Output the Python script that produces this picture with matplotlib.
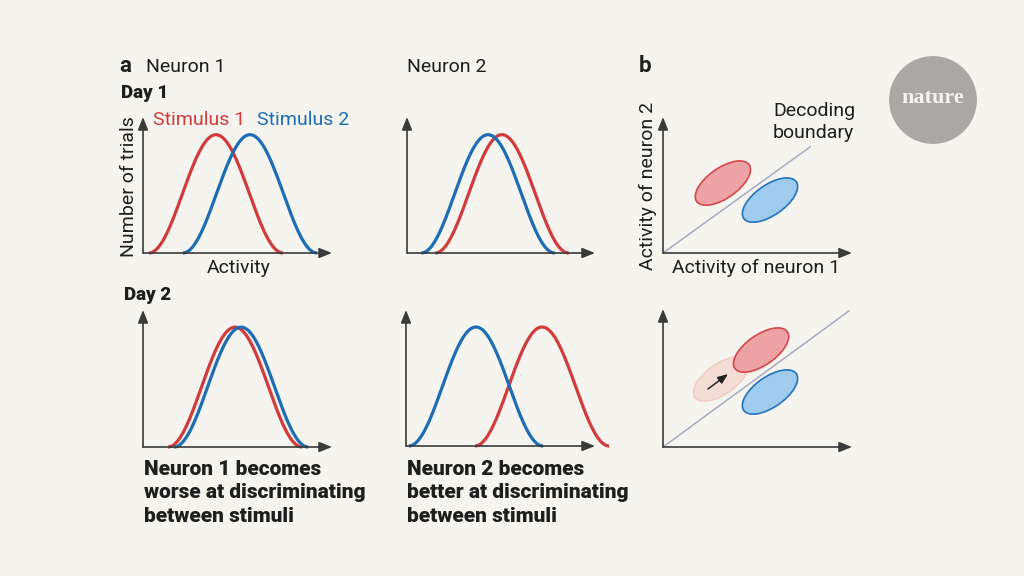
import numpy as np
import matplotlib
matplotlib.use("Agg")
import matplotlib.pyplot as plt
from matplotlib.patches import Ellipse, Circle

# ---------------- data ----------------
# bell curves: centers in activity units (0-10 axis), [stimulus 1, stimulus 2]
day1_n1_centers = [3.86, 5.66]
day1_n2_centers = [5.05, 4.31]
day2_n1_centers = [4.87, 5.19]
day2_n2_centers = [7.2, 3.7]
half_width = 3.55
peak_height = [0.87, 0.87, 0.875, 0.875]

# panel b: population activity clouds (neuron1, neuron2)
b1_stim1_center = (3.17, 3.70)
b1_stim2_center = (5.66, 2.80)
b2_stim1_center = (5.19, 5.13)
b2_stim1_old = (3.07, 3.60)
b2_stim2_center = (5.66, 2.91)
cloud_size = (3.39, 1.6)
cloud_angle = 35
boundary_top = [(7.78, 5.61), (9.84, 7.2)]
shift_arrow = [(2.38, 3.07), (3.44, 3.86)]

series_labels = ["Stimulus 1", "Stimulus 2"]

# ---------------- style ----------------
BG = "#f5f4ee"
RED = "#d23b3c"
BLUE = "#1c6db6"
AX = "#3a3a3a"
TXT = "#1e1e1e"
FONT = ["Roboto", "DejaVu Sans"]
plt.rcParams["font.family"] = FONT

W, H = 1024, 576
fig = plt.figure(figsize=(W / 100, H / 100), dpi=100, facecolor=BG)


def rect(x0, y_axis, x1, y_top):
    return [x0 / W, 1 - y_axis / H, (x1 - x0) / W, (y_axis - y_top) / H]


def arrows(ax):
    kw = dict(arrowstyle="-|>,head_length=0.55,head_width=0.22", color=AX, lw=1.2,
              shrinkA=0, shrinkB=0, mutation_scale=14)
    ax.annotate("", xy=(1, 0), xytext=(0, 0), xycoords="axes fraction", arrowprops=kw)
    ax.annotate("", xy=(0, 1), xytext=(0, 0), xycoords="axes fraction", arrowprops=kw)


def clean(ax):
    ax.set_facecolor("none")
    for s in ax.spines.values():
        s.set_visible(False)
    ax.set_xticks([])
    ax.set_yticks([])


def curve_panel(r, centers, h):
    ax = fig.add_axes(r)
    clean(ax)
    ax.set_xlim(0, 10)
    ax.set_ylim(0, 1)
    cols = [RED, BLUE]
    for c, col in zip(centers, cols):
        x = np.linspace(c - half_width, c + half_width, 300)
        y = h * (1 + np.cos(np.pi * (x - c) / half_width)) / 2
        ax.plot(x, y, color=col, lw=2.3, clip_on=False, solid_capstyle="butt")
    arrows(ax)
    return ax


ax1 = curve_panel(rect(143, 253, 332, 117), day1_n1_centers, peak_height[0])
ax2 = curve_panel(rect(407, 253, 595, 117), day1_n2_centers, peak_height[1])
ax3 = curve_panel(rect(143, 447, 332, 310), day2_n1_centers, peak_height[2])
ax4 = curve_panel(rect(406, 446, 595, 310), day2_n2_centers, peak_height[3])


def cloud(ax, c, fc, ec, z=2):
    ax.add_patch(Ellipse(c, cloud_size[0], cloud_size[1], angle=cloud_angle,
                         facecolor=fc, edgecolor=ec, lw=1.2, zorder=z))


def b_panel(r, top):
    ax = fig.add_axes(r)
    clean(ax)
    ax.set_xlim(0, 10)
    ax.set_ylim(0, (r[3] * H) / (r[2] * W) * 10)
    ax.plot([0, top[0]], [0, top[1]], color="#a7abc0", lw=1.1, zorder=1)
    arrows(ax)
    return ax


bA = b_panel(rect(663, 253, 852, 117), boundary_top[0])
cloud(bA, b1_stim1_center, "#eda3a5", "#d8474a")
cloud(bA, b1_stim2_center, "#9fcbec", "#2174c0")

bB = b_panel(rect(663, 447, 852, 309), boundary_top[1])
cloud(bB, b2_stim1_old, "#f3ddd6", "#f0cec6", z=2)
cloud(bB, b2_stim1_center, "#eda3a5", "#d8474a", z=3)
cloud(bB, b2_stim2_center, "#9fcbec", "#2174c0")
bB.annotate("", xy=shift_arrow[1], xytext=shift_arrow[0],
            arrowprops=dict(arrowstyle="-|>,head_length=0.5,head_width=0.2", color="#222222",
                            lw=1.1, shrinkA=0, shrinkB=0, mutation_scale=12), zorder=5)


# ---------------- text ----------------
def t(x, y, s, **kw):
    kw.setdefault("color", TXT)
    kw.setdefault("fontsize", 14)
    kw.setdefault("va", "center")
    fig.text(x / W, 1 - y / H, s, **kw)


t(119, 66, "a", fontweight="bold", fontsize=16)
t(146, 67, "Neuron 1")
t(407, 67, "Neuron 2")
t(639, 66, "b", fontweight="bold", fontsize=16)
t(121, 93, "Day 1", fontweight="heavy", fontsize=13.5)
t(124, 295, "Day 2", fontweight="heavy", fontsize=13.5)
t(153, 120, series_labels[0], color=RED)
t(257, 120, series_labels[1], color=BLUE)
t(129, 187, "Number of trials", rotation=90, ha="center")
t(239, 268, "Activity", ha="center")
t(648, 186, "Activity of neuron 2", rotation=90, ha="center")
t(756, 268, "Activity of neuron 1", ha="center")
t(773, 111, "Decoding")
t(773, 133, "boundary")

t(144, 493, "Neuron 1 becomes\nworse at discriminating\nbetween stimuli",
  fontweight="heavy", fontsize=15, linespacing=1.3)
t(407, 493, "Neuron 2 becomes\nbetter at discriminating\nbetween stimuli",
  fontweight="heavy", fontsize=15, linespacing=1.3)

# nature logo
lg = fig.add_axes([(933 - 45) / W, 1 - (100 + 45) / H, 90 / W, 90 / H])
lg.set_xlim(-1, 1)
lg.set_ylim(-1, 1)
lg.axis("off")
lg.add_patch(Circle((0, 0), 0.96, color="#a9a8a4"))
lg.text(0, 0.04, "nature", color="#f4f3ee", ha="center", va="center",
        fontsize=16, family=["Liberation Serif", "DejaVu Serif"], fontweight="bold")

fig.savefig("out.png", dpi=100, facecolor=BG)
